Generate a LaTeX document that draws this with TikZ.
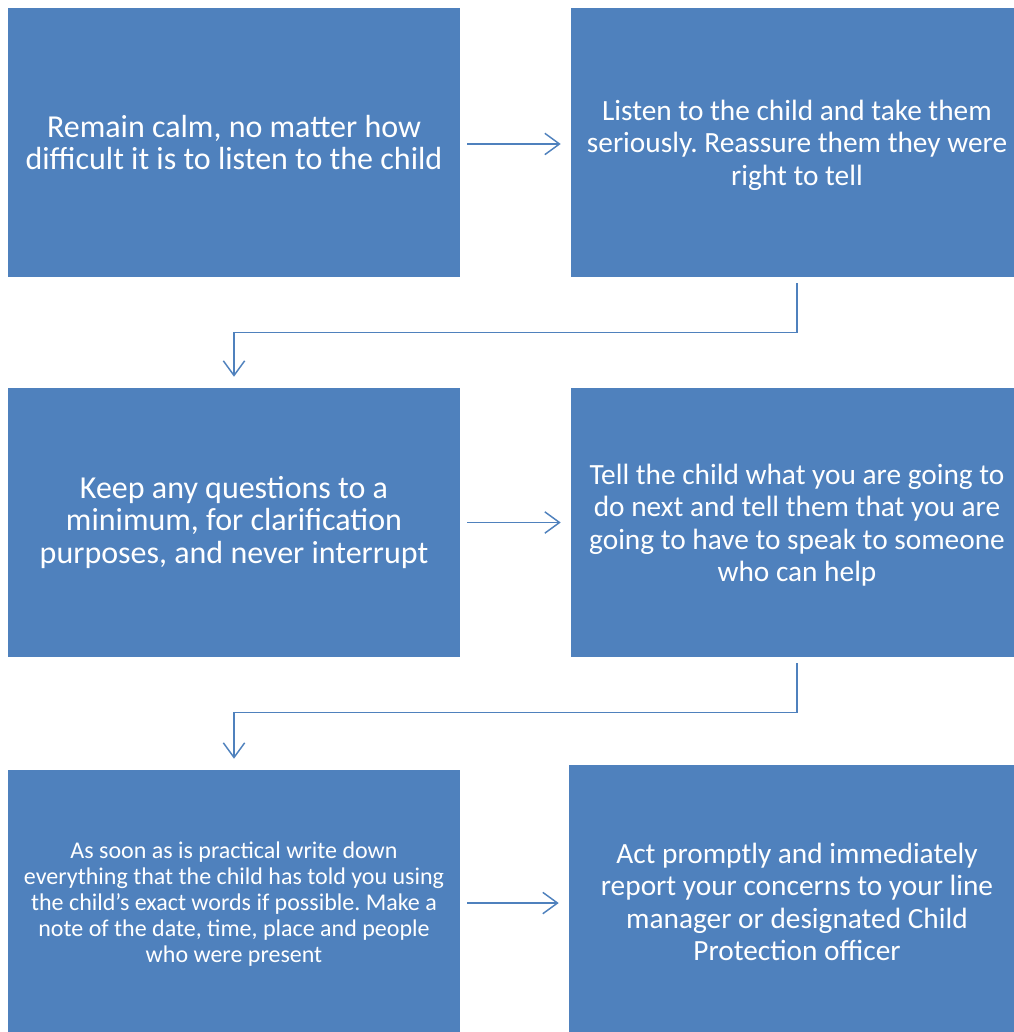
\documentclass[tikz,border=0pt]{standalone}
\usepackage{fontspec}
\setmainfont{Carlito}
\usetikzlibrary{arrows.meta}
\definecolor{boxblue}{HTML}{4F81BD}
\frenchspacing
\tikzset{
  box/.style={fill=boxblue, draw=none, text=white, minimum width=339pt, minimum height=201.75pt, align=center, inner sep=0pt, font=\fontsize{22}{24.3}\selectfont\frenchspacing},
  bigbox/.style={box, font=\fontsize{24}{24.5}\selectfont\frenchspacing},
  smallbox/.style={box, font=\fontsize{18}{19.5}\selectfont\frenchspacing},
  arr/.style={draw=boxblue, line width=1.1pt, -{Straight Barb[length=11pt,width=16pt,line width=1.1pt]}},
}
\begin{document}
\begin{tikzpicture}[x=0.75pt,y=-0.75pt]
\useasboundingbox (0,0) rectangle (1014,1032);
\clip (0,0) rectangle (1014,1032);
\node[bigbox] (b1) at (234,142.5) {Remain calm, no matter how\\difficult it is to listen to the child};
\node[box] (b2) at (797,142.5) {\rule{0pt}{19pt}Listen to the child and take them\\seriously. Reassure them they were\\right to tell};
\node[bigbox] (b3) at (234,522.5) {Keep any questions to a\\minimum, for clarification\\purposes, and never interrupt};
\node[box] (b4) at (797,522.5) {\rule{0pt}{19pt}Tell the child what you are going to\\do next and tell them that you are\\going to have to speak to someone\\who can help};
\node[smallbox] (b5) at (234,904.5) {As soon as is practical write down\\everything that the child has told you using\\the child’s exact words if possible. Make a\\note of the date, time, place and people\\who were present};
\node[box, minimum width=342pt] (b6) at (797,899.5) {\rule{0pt}{19pt}Act promptly and immediately\\report your concerns to your line\\manager or designated Child\\Protection officer};
\draw[arr, shorten <=5.25pt, shorten >=7.5pt] ([yshift=-1.1pt]b1.east) -- ([yshift=-1.1pt]b2.west);
\draw[arr, shorten <=5.25pt, shorten >=7.5pt] (b3.east) -- (b4.west);
\draw[arr, shorten <=5.25pt, shorten >=7.5pt] ([yshift=1.1pt]b5.east) -- ([yshift=1.1pt]b5.east -| b6.west);
\draw[arr, shorten <=4.5pt, shorten >=8.25pt] (b2.south) -- ++(0,55) -| (b3.north);
\draw[arr, shorten <=4.5pt, shorten >=8.25pt] (b4.south) -- ++(0,55) -| (b5.north);
\end{tikzpicture}
\end{document}
